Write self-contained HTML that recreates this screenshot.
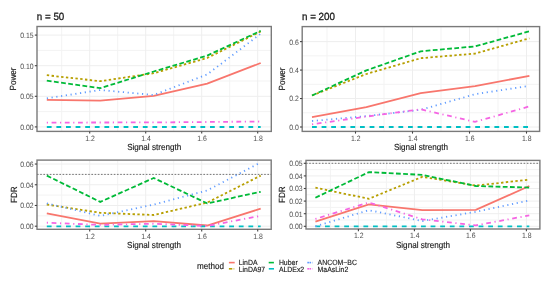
<!DOCTYPE html>
<html><head><meta charset="utf-8"><style>
html,body{margin:0;padding:0;background:#fff;}
body{width:550px;height:282px;overflow:hidden;}
svg{display:block;font-family:"Liberation Sans", sans-serif;filter:blur(0.35px);}
text{stroke-width:0.15px;text-rendering:geometricPrecision;}
</style></head><body>
<svg width="550" height="282" viewBox="0 0 550 282">
<rect width="550" height="282" fill="#fff"/>
<rect x="37" y="26.5" width="234.3" height="104.9" fill="#fff"/>
<line x1="37" x2="271.3" y1="111.60" y2="111.60" stroke="#f3f3f3" stroke-width="1"/>
<line x1="37" x2="271.3" y1="81.00" y2="81.00" stroke="#f3f3f3" stroke-width="1"/>
<line x1="37" x2="271.3" y1="50.40" y2="50.40" stroke="#f3f3f3" stroke-width="1"/>
<line y1="26.5" y2="131.4" x1="61.70" x2="61.70" stroke="#f3f3f3" stroke-width="1"/>
<line y1="26.5" y2="131.4" x1="117.70" x2="117.70" stroke="#f3f3f3" stroke-width="1"/>
<line y1="26.5" y2="131.4" x1="173.70" x2="173.70" stroke="#f3f3f3" stroke-width="1"/>
<line y1="26.5" y2="131.4" x1="229.70" x2="229.70" stroke="#f3f3f3" stroke-width="1"/>
<line x1="37" x2="271.3" y1="126.90" y2="126.90" stroke="#eeeeee" stroke-width="1"/>
<line x1="37" x2="271.3" y1="96.30" y2="96.30" stroke="#eeeeee" stroke-width="1"/>
<line x1="37" x2="271.3" y1="65.70" y2="65.70" stroke="#eeeeee" stroke-width="1"/>
<line x1="37" x2="271.3" y1="35.10" y2="35.10" stroke="#eeeeee" stroke-width="1"/>
<line y1="26.5" y2="131.4" x1="89.70" x2="89.70" stroke="#eeeeee" stroke-width="1"/>
<line y1="26.5" y2="131.4" x1="145.70" x2="145.70" stroke="#eeeeee" stroke-width="1"/>
<line y1="26.5" y2="131.4" x1="201.70" x2="201.70" stroke="#eeeeee" stroke-width="1"/>
<line y1="26.5" y2="131.4" x1="257.70" x2="257.70" stroke="#eeeeee" stroke-width="1"/>
<polyline points="46.80,99.80 100.27,100.60 153.75,95.80 207.22,83.60 260.70,63.00" fill="none" stroke="#F8766D" stroke-width="1.8"/>
<polyline points="46.80,75.20 100.27,81.20 153.75,73.20 207.22,58.00 260.70,31.50" fill="none" stroke="#B79F00" stroke-width="1.8" stroke-dasharray="2.4 2.4"/>
<polyline points="46.80,80.60 100.27,88.20 153.75,71.50 207.22,55.60 260.70,30.80" fill="none" stroke="#00BA38" stroke-width="1.8" stroke-dasharray="4.8 2.4"/>
<polyline points="46.80,127.00 100.27,127.00 153.75,127.00 207.22,127.00 260.70,127.00" fill="none" stroke="#00BFC4" stroke-width="1.8" stroke-dasharray="4.8 4.8"/>
<polyline points="46.80,98.40 100.27,90.00 153.75,95.00 207.22,74.40 260.70,33.70" fill="none" stroke="#619CFF" stroke-width="1.8" stroke-dasharray="1.2 3.5999999999999996"/>
<polyline points="46.80,122.60 100.27,122.50 153.75,122.40 207.22,122.00 260.70,121.50" fill="none" stroke="#F564E3" stroke-width="1.8" stroke-dasharray="1.2 3.5999999999999996 4.8 3.5999999999999996"/>
<rect x="37" y="26.5" width="234.3" height="104.9" fill="none" stroke="#7a7a7a" stroke-width="1.4"/>
<line x1="34.8" x2="37" y1="126.90" y2="126.90" stroke="#444" stroke-width="1.1"/>
<text x="33.60" y="129.80" text-anchor="end" font-size="7.73" textLength="13.43" lengthAdjust="spacingAndGlyphs" fill="#4d4d4d" stroke="none">0.00</text>
<line x1="34.8" x2="37" y1="96.30" y2="96.30" stroke="#444" stroke-width="1.1"/>
<text x="33.60" y="99.20" text-anchor="end" font-size="7.73" textLength="13.43" lengthAdjust="spacingAndGlyphs" fill="#4d4d4d" stroke="none">0.05</text>
<line x1="34.8" x2="37" y1="65.70" y2="65.70" stroke="#444" stroke-width="1.1"/>
<text x="33.60" y="68.60" text-anchor="end" font-size="7.73" textLength="13.43" lengthAdjust="spacingAndGlyphs" fill="#4d4d4d" stroke="none">0.10</text>
<line x1="34.8" x2="37" y1="35.10" y2="35.10" stroke="#444" stroke-width="1.1"/>
<text x="33.60" y="38.00" text-anchor="end" font-size="7.73" textLength="13.43" lengthAdjust="spacingAndGlyphs" fill="#4d4d4d" stroke="none">0.15</text>
<line x1="89.70" x2="89.70" y1="131.4" y2="133.6" stroke="#444" stroke-width="1.1"/>
<text x="90.00" y="140.80" text-anchor="middle" font-size="7.73" textLength="9.59" lengthAdjust="spacingAndGlyphs" fill="#4d4d4d" stroke="none">1.2</text>
<line x1="145.70" x2="145.70" y1="131.4" y2="133.6" stroke="#444" stroke-width="1.1"/>
<text x="146.00" y="140.80" text-anchor="middle" font-size="7.73" textLength="9.59" lengthAdjust="spacingAndGlyphs" fill="#4d4d4d" stroke="none">1.4</text>
<line x1="201.70" x2="201.70" y1="131.4" y2="133.6" stroke="#444" stroke-width="1.1"/>
<text x="202.00" y="140.80" text-anchor="middle" font-size="7.73" textLength="9.59" lengthAdjust="spacingAndGlyphs" fill="#4d4d4d" stroke="none">1.6</text>
<line x1="257.70" x2="257.70" y1="131.4" y2="133.6" stroke="#444" stroke-width="1.1"/>
<text x="258.00" y="140.80" text-anchor="middle" font-size="7.73" textLength="9.59" lengthAdjust="spacingAndGlyphs" fill="#4d4d4d" stroke="none">1.8</text>
<text x="154.15" y="150.00" text-anchor="middle" font-size="8.91" textLength="54.03" lengthAdjust="spacingAndGlyphs" fill="#1a1a1a" stroke="#1a1a1a">Signal strength</text>
<text transform="translate(16.25,78.95) rotate(-90)" text-anchor="middle" font-size="8.91" textLength="22.96" lengthAdjust="spacingAndGlyphs" fill="#1a1a1a" stroke="#1a1a1a">Power</text>
<text x="36.80" y="20.10" font-size="10.39" textLength="27.52" lengthAdjust="spacingAndGlyphs" fill="#1a1a1a" stroke="#1a1a1a" style="stroke-width:0.3px">n = 50</text>
<rect x="302.2" y="26.6" width="237.40000000000003" height="104.80000000000001" fill="#fff"/>
<line x1="302.2" x2="539.6" y1="112.77" y2="112.77" stroke="#f3f3f3" stroke-width="1"/>
<line x1="302.2" x2="539.6" y1="84.31" y2="84.31" stroke="#f3f3f3" stroke-width="1"/>
<line x1="302.2" x2="539.6" y1="55.85" y2="55.85" stroke="#f3f3f3" stroke-width="1"/>
<line y1="26.6" y2="131.4" x1="327.00" x2="327.00" stroke="#f3f3f3" stroke-width="1"/>
<line y1="26.6" y2="131.4" x1="384.00" x2="384.00" stroke="#f3f3f3" stroke-width="1"/>
<line y1="26.6" y2="131.4" x1="441.00" x2="441.00" stroke="#f3f3f3" stroke-width="1"/>
<line y1="26.6" y2="131.4" x1="498.00" x2="498.00" stroke="#f3f3f3" stroke-width="1"/>
<line x1="302.2" x2="539.6" y1="127.00" y2="127.00" stroke="#eeeeee" stroke-width="1"/>
<line x1="302.2" x2="539.6" y1="98.54" y2="98.54" stroke="#eeeeee" stroke-width="1"/>
<line x1="302.2" x2="539.6" y1="70.08" y2="70.08" stroke="#eeeeee" stroke-width="1"/>
<line x1="302.2" x2="539.6" y1="41.62" y2="41.62" stroke="#eeeeee" stroke-width="1"/>
<line y1="26.6" y2="131.4" x1="355.50" x2="355.50" stroke="#eeeeee" stroke-width="1"/>
<line y1="26.6" y2="131.4" x1="412.50" x2="412.50" stroke="#eeeeee" stroke-width="1"/>
<line y1="26.6" y2="131.4" x1="469.50" x2="469.50" stroke="#eeeeee" stroke-width="1"/>
<line y1="26.6" y2="131.4" x1="526.50" x2="526.50" stroke="#eeeeee" stroke-width="1"/>
<polyline points="312.00,117.20 366.35,107.10 420.70,93.20 475.05,86.20 529.40,75.80" fill="none" stroke="#F8766D" stroke-width="1.8"/>
<polyline points="312.00,95.50 366.35,74.00 420.70,58.20 475.05,53.60 529.40,38.30" fill="none" stroke="#B79F00" stroke-width="1.8" stroke-dasharray="2.4 2.4"/>
<polyline points="312.00,95.50 366.35,70.40 420.70,51.30 475.05,46.40 529.40,31.30" fill="none" stroke="#00BA38" stroke-width="1.8" stroke-dasharray="4.8 2.4"/>
<polyline points="312.00,127.00 366.35,127.00 420.70,127.00 475.05,127.00 529.40,127.00" fill="none" stroke="#00BFC4" stroke-width="1.8" stroke-dasharray="4.8 4.8"/>
<polyline points="312.00,121.00 366.35,116.10 420.70,109.80 475.05,94.20 529.40,85.80" fill="none" stroke="#619CFF" stroke-width="1.8" stroke-dasharray="1.2 3.5999999999999996"/>
<polyline points="312.00,124.30 366.35,116.60 420.70,109.30 475.05,121.90 529.40,106.40" fill="none" stroke="#F564E3" stroke-width="1.8" stroke-dasharray="1.2 3.5999999999999996 4.8 3.5999999999999996"/>
<rect x="302.2" y="26.6" width="237.40000000000003" height="104.80000000000001" fill="none" stroke="#7a7a7a" stroke-width="1.4"/>
<line x1="300.0" x2="302.2" y1="127.00" y2="127.00" stroke="#444" stroke-width="1.1"/>
<text x="298.80" y="129.90" text-anchor="end" font-size="7.73" textLength="9.59" lengthAdjust="spacingAndGlyphs" fill="#4d4d4d" stroke="none">0.0</text>
<line x1="300.0" x2="302.2" y1="98.54" y2="98.54" stroke="#444" stroke-width="1.1"/>
<text x="298.80" y="101.44" text-anchor="end" font-size="7.73" textLength="9.59" lengthAdjust="spacingAndGlyphs" fill="#4d4d4d" stroke="none">0.2</text>
<line x1="300.0" x2="302.2" y1="70.08" y2="70.08" stroke="#444" stroke-width="1.1"/>
<text x="298.80" y="72.98" text-anchor="end" font-size="7.73" textLength="9.59" lengthAdjust="spacingAndGlyphs" fill="#4d4d4d" stroke="none">0.4</text>
<line x1="300.0" x2="302.2" y1="41.62" y2="41.62" stroke="#444" stroke-width="1.1"/>
<text x="298.80" y="44.52" text-anchor="end" font-size="7.73" textLength="9.59" lengthAdjust="spacingAndGlyphs" fill="#4d4d4d" stroke="none">0.6</text>
<line x1="355.50" x2="355.50" y1="131.4" y2="133.6" stroke="#444" stroke-width="1.1"/>
<text x="355.80" y="140.80" text-anchor="middle" font-size="7.73" textLength="9.59" lengthAdjust="spacingAndGlyphs" fill="#4d4d4d" stroke="none">1.2</text>
<line x1="412.50" x2="412.50" y1="131.4" y2="133.6" stroke="#444" stroke-width="1.1"/>
<text x="412.80" y="140.80" text-anchor="middle" font-size="7.73" textLength="9.59" lengthAdjust="spacingAndGlyphs" fill="#4d4d4d" stroke="none">1.4</text>
<line x1="469.50" x2="469.50" y1="131.4" y2="133.6" stroke="#444" stroke-width="1.1"/>
<text x="469.80" y="140.80" text-anchor="middle" font-size="7.73" textLength="9.59" lengthAdjust="spacingAndGlyphs" fill="#4d4d4d" stroke="none">1.6</text>
<line x1="526.50" x2="526.50" y1="131.4" y2="133.6" stroke="#444" stroke-width="1.1"/>
<text x="526.80" y="140.80" text-anchor="middle" font-size="7.73" textLength="9.59" lengthAdjust="spacingAndGlyphs" fill="#4d4d4d" stroke="none">1.8</text>
<text x="420.90" y="150.00" text-anchor="middle" font-size="8.91" textLength="54.03" lengthAdjust="spacingAndGlyphs" fill="#1a1a1a" stroke="#1a1a1a">Signal strength</text>
<text transform="translate(284.90,79.00) rotate(-90)" text-anchor="middle" font-size="8.91" textLength="22.96" lengthAdjust="spacingAndGlyphs" fill="#1a1a1a" stroke="#1a1a1a">Power</text>
<text x="302.00" y="20.20" font-size="10.39" textLength="32.97" lengthAdjust="spacingAndGlyphs" fill="#1a1a1a" stroke="#1a1a1a" style="stroke-width:0.3px">n = 200</text>
<rect x="37" y="160.1" width="234.2" height="69.20000000000002" fill="#fff"/>
<line x1="37" x2="271.2" y1="215.84" y2="215.84" stroke="#f3f3f3" stroke-width="1"/>
<line x1="37" x2="271.2" y1="195.12" y2="195.12" stroke="#f3f3f3" stroke-width="1"/>
<line x1="37" x2="271.2" y1="174.40" y2="174.40" stroke="#f3f3f3" stroke-width="1"/>
<line y1="160.1" y2="229.3" x1="61.70" x2="61.70" stroke="#f3f3f3" stroke-width="1"/>
<line y1="160.1" y2="229.3" x1="117.70" x2="117.70" stroke="#f3f3f3" stroke-width="1"/>
<line y1="160.1" y2="229.3" x1="173.70" x2="173.70" stroke="#f3f3f3" stroke-width="1"/>
<line y1="160.1" y2="229.3" x1="229.70" x2="229.70" stroke="#f3f3f3" stroke-width="1"/>
<line x1="37" x2="271.2" y1="226.20" y2="226.20" stroke="#eeeeee" stroke-width="1"/>
<line x1="37" x2="271.2" y1="205.48" y2="205.48" stroke="#eeeeee" stroke-width="1"/>
<line x1="37" x2="271.2" y1="184.76" y2="184.76" stroke="#eeeeee" stroke-width="1"/>
<line x1="37" x2="271.2" y1="164.04" y2="164.04" stroke="#eeeeee" stroke-width="1"/>
<line y1="160.1" y2="229.3" x1="89.70" x2="89.70" stroke="#eeeeee" stroke-width="1"/>
<line y1="160.1" y2="229.3" x1="145.70" x2="145.70" stroke="#eeeeee" stroke-width="1"/>
<line y1="160.1" y2="229.3" x1="201.70" x2="201.70" stroke="#eeeeee" stroke-width="1"/>
<line y1="160.1" y2="229.3" x1="257.70" x2="257.70" stroke="#eeeeee" stroke-width="1"/>
<line x1="37" x2="271.2" y1="174.40" y2="174.40" stroke="#666" stroke-width="0.9" stroke-dasharray="1.6 1.6"/>
<polyline points="46.80,213.30 100.27,223.70 153.75,221.10 207.22,225.50 260.70,208.60" fill="none" stroke="#F8766D" stroke-width="1.8"/>
<polyline points="46.80,204.50 100.27,212.80 153.75,215.00 207.22,202.60 260.70,175.60" fill="none" stroke="#B79F00" stroke-width="1.8" stroke-dasharray="2.4 2.4"/>
<polyline points="46.80,175.60 100.27,201.90 153.75,178.00 207.22,203.40 260.70,191.80" fill="none" stroke="#00BA38" stroke-width="1.8" stroke-dasharray="4.8 2.4"/>
<polyline points="46.80,226.30 100.27,226.30 153.75,226.30 207.22,226.30 260.70,226.30" fill="none" stroke="#00BFC4" stroke-width="1.8" stroke-dasharray="4.8 4.8"/>
<polyline points="46.80,203.40 100.27,215.90 153.75,204.60 207.22,190.40 260.70,162.40" fill="none" stroke="#619CFF" stroke-width="1.8" stroke-dasharray="1.2 3.5999999999999996"/>
<polyline points="46.80,222.70 100.27,224.90 153.75,223.70 207.22,226.00 260.70,215.80" fill="none" stroke="#F564E3" stroke-width="1.8" stroke-dasharray="1.2 3.5999999999999996 4.8 3.5999999999999996"/>
<rect x="37" y="160.1" width="234.2" height="69.20000000000002" fill="none" stroke="#7a7a7a" stroke-width="1.4"/>
<line x1="34.8" x2="37" y1="226.20" y2="226.20" stroke="#444" stroke-width="1.1"/>
<text x="33.60" y="229.10" text-anchor="end" font-size="7.73" textLength="13.43" lengthAdjust="spacingAndGlyphs" fill="#4d4d4d" stroke="none">0.00</text>
<line x1="34.8" x2="37" y1="205.48" y2="205.48" stroke="#444" stroke-width="1.1"/>
<text x="33.60" y="208.38" text-anchor="end" font-size="7.73" textLength="13.43" lengthAdjust="spacingAndGlyphs" fill="#4d4d4d" stroke="none">0.02</text>
<line x1="34.8" x2="37" y1="184.76" y2="184.76" stroke="#444" stroke-width="1.1"/>
<text x="33.60" y="187.66" text-anchor="end" font-size="7.73" textLength="13.43" lengthAdjust="spacingAndGlyphs" fill="#4d4d4d" stroke="none">0.04</text>
<line x1="34.8" x2="37" y1="164.04" y2="164.04" stroke="#444" stroke-width="1.1"/>
<text x="33.60" y="166.94" text-anchor="end" font-size="7.73" textLength="13.43" lengthAdjust="spacingAndGlyphs" fill="#4d4d4d" stroke="none">0.06</text>
<line x1="89.70" x2="89.70" y1="229.3" y2="231.5" stroke="#444" stroke-width="1.1"/>
<text x="90.00" y="238.70" text-anchor="middle" font-size="7.73" textLength="9.59" lengthAdjust="spacingAndGlyphs" fill="#4d4d4d" stroke="none">1.2</text>
<line x1="145.70" x2="145.70" y1="229.3" y2="231.5" stroke="#444" stroke-width="1.1"/>
<text x="146.00" y="238.70" text-anchor="middle" font-size="7.73" textLength="9.59" lengthAdjust="spacingAndGlyphs" fill="#4d4d4d" stroke="none">1.4</text>
<line x1="201.70" x2="201.70" y1="229.3" y2="231.5" stroke="#444" stroke-width="1.1"/>
<text x="202.00" y="238.70" text-anchor="middle" font-size="7.73" textLength="9.59" lengthAdjust="spacingAndGlyphs" fill="#4d4d4d" stroke="none">1.6</text>
<line x1="257.70" x2="257.70" y1="229.3" y2="231.5" stroke="#444" stroke-width="1.1"/>
<text x="258.00" y="238.70" text-anchor="middle" font-size="7.73" textLength="9.59" lengthAdjust="spacingAndGlyphs" fill="#4d4d4d" stroke="none">1.8</text>
<text x="154.10" y="247.90" text-anchor="middle" font-size="8.91" textLength="54.03" lengthAdjust="spacingAndGlyphs" fill="#1a1a1a" stroke="#1a1a1a">Signal strength</text>
<text transform="translate(16.50,194.70) rotate(-90)" text-anchor="middle" font-size="8.91" textLength="16.65" lengthAdjust="spacingAndGlyphs" fill="#1a1a1a" stroke="#1a1a1a">FDR</text>
<rect x="306" y="160.4" width="233.89999999999998" height="68.6" fill="#fff"/>
<line x1="306" x2="539.9" y1="220.00" y2="220.00" stroke="#f3f3f3" stroke-width="1"/>
<line x1="306" x2="539.9" y1="207.40" y2="207.40" stroke="#f3f3f3" stroke-width="1"/>
<line x1="306" x2="539.9" y1="194.80" y2="194.80" stroke="#f3f3f3" stroke-width="1"/>
<line x1="306" x2="539.9" y1="182.20" y2="182.20" stroke="#f3f3f3" stroke-width="1"/>
<line x1="306" x2="539.9" y1="169.60" y2="169.60" stroke="#f3f3f3" stroke-width="1"/>
<line y1="160.4" y2="229" x1="330.40" x2="330.40" stroke="#f3f3f3" stroke-width="1"/>
<line y1="160.4" y2="229" x1="386.40" x2="386.40" stroke="#f3f3f3" stroke-width="1"/>
<line y1="160.4" y2="229" x1="442.40" x2="442.40" stroke="#f3f3f3" stroke-width="1"/>
<line y1="160.4" y2="229" x1="498.40" x2="498.40" stroke="#f3f3f3" stroke-width="1"/>
<line x1="306" x2="539.9" y1="226.30" y2="226.30" stroke="#eeeeee" stroke-width="1"/>
<line x1="306" x2="539.9" y1="213.70" y2="213.70" stroke="#eeeeee" stroke-width="1"/>
<line x1="306" x2="539.9" y1="201.10" y2="201.10" stroke="#eeeeee" stroke-width="1"/>
<line x1="306" x2="539.9" y1="188.50" y2="188.50" stroke="#eeeeee" stroke-width="1"/>
<line x1="306" x2="539.9" y1="175.90" y2="175.90" stroke="#eeeeee" stroke-width="1"/>
<line x1="306" x2="539.9" y1="163.30" y2="163.30" stroke="#eeeeee" stroke-width="1"/>
<line y1="160.4" y2="229" x1="358.40" x2="358.40" stroke="#eeeeee" stroke-width="1"/>
<line y1="160.4" y2="229" x1="414.40" x2="414.40" stroke="#eeeeee" stroke-width="1"/>
<line y1="160.4" y2="229" x1="470.40" x2="470.40" stroke="#eeeeee" stroke-width="1"/>
<line y1="160.4" y2="229" x1="526.40" x2="526.40" stroke="#eeeeee" stroke-width="1"/>
<line x1="306" x2="539.9" y1="163.30" y2="163.30" stroke="#666" stroke-width="0.9" stroke-dasharray="1.6 1.6"/>
<polyline points="315.40,221.60 368.88,204.30 422.35,210.20 475.82,209.90 529.30,186.00" fill="none" stroke="#F8766D" stroke-width="1.8"/>
<polyline points="315.40,187.70 368.88,198.80 422.35,176.80 475.82,185.60 529.30,179.60" fill="none" stroke="#B79F00" stroke-width="1.8" stroke-dasharray="2.4 2.4"/>
<polyline points="315.40,197.70 368.88,172.10 422.35,174.90 475.82,186.00 529.30,187.60" fill="none" stroke="#00BA38" stroke-width="1.8" stroke-dasharray="4.8 2.4"/>
<polyline points="315.40,226.30 368.88,226.30 422.35,226.30 475.82,226.30 529.30,226.30" fill="none" stroke="#00BFC4" stroke-width="1.8" stroke-dasharray="4.8 4.8"/>
<polyline points="315.40,226.30 368.88,210.20 422.35,221.00 475.82,211.80 529.30,200.50" fill="none" stroke="#619CFF" stroke-width="1.8" stroke-dasharray="1.2 3.5999999999999996"/>
<polyline points="315.40,218.90 368.88,202.50 422.35,219.30 475.82,225.40 529.30,215.40" fill="none" stroke="#F564E3" stroke-width="1.8" stroke-dasharray="1.2 3.5999999999999996 4.8 3.5999999999999996"/>
<rect x="306" y="160.4" width="233.89999999999998" height="68.6" fill="none" stroke="#7a7a7a" stroke-width="1.4"/>
<line x1="303.8" x2="306" y1="226.30" y2="226.30" stroke="#444" stroke-width="1.1"/>
<text x="302.60" y="229.20" text-anchor="end" font-size="7.73" textLength="13.43" lengthAdjust="spacingAndGlyphs" fill="#4d4d4d" stroke="none">0.00</text>
<line x1="303.8" x2="306" y1="213.70" y2="213.70" stroke="#444" stroke-width="1.1"/>
<text x="302.60" y="216.60" text-anchor="end" font-size="7.73" textLength="13.43" lengthAdjust="spacingAndGlyphs" fill="#4d4d4d" stroke="none">0.01</text>
<line x1="303.8" x2="306" y1="201.10" y2="201.10" stroke="#444" stroke-width="1.1"/>
<text x="302.60" y="204.00" text-anchor="end" font-size="7.73" textLength="13.43" lengthAdjust="spacingAndGlyphs" fill="#4d4d4d" stroke="none">0.02</text>
<line x1="303.8" x2="306" y1="188.50" y2="188.50" stroke="#444" stroke-width="1.1"/>
<text x="302.60" y="191.40" text-anchor="end" font-size="7.73" textLength="13.43" lengthAdjust="spacingAndGlyphs" fill="#4d4d4d" stroke="none">0.03</text>
<line x1="303.8" x2="306" y1="175.90" y2="175.90" stroke="#444" stroke-width="1.1"/>
<text x="302.60" y="178.80" text-anchor="end" font-size="7.73" textLength="13.43" lengthAdjust="spacingAndGlyphs" fill="#4d4d4d" stroke="none">0.04</text>
<line x1="303.8" x2="306" y1="163.30" y2="163.30" stroke="#444" stroke-width="1.1"/>
<text x="302.60" y="166.20" text-anchor="end" font-size="7.73" textLength="13.43" lengthAdjust="spacingAndGlyphs" fill="#4d4d4d" stroke="none">0.05</text>
<line x1="358.40" x2="358.40" y1="229" y2="231.2" stroke="#444" stroke-width="1.1"/>
<text x="358.70" y="238.40" text-anchor="middle" font-size="7.73" textLength="9.59" lengthAdjust="spacingAndGlyphs" fill="#4d4d4d" stroke="none">1.2</text>
<line x1="414.40" x2="414.40" y1="229" y2="231.2" stroke="#444" stroke-width="1.1"/>
<text x="414.70" y="238.40" text-anchor="middle" font-size="7.73" textLength="9.59" lengthAdjust="spacingAndGlyphs" fill="#4d4d4d" stroke="none">1.4</text>
<line x1="470.40" x2="470.40" y1="229" y2="231.2" stroke="#444" stroke-width="1.1"/>
<text x="470.70" y="238.40" text-anchor="middle" font-size="7.73" textLength="9.59" lengthAdjust="spacingAndGlyphs" fill="#4d4d4d" stroke="none">1.6</text>
<line x1="526.40" x2="526.40" y1="229" y2="231.2" stroke="#444" stroke-width="1.1"/>
<text x="526.70" y="238.40" text-anchor="middle" font-size="7.73" textLength="9.59" lengthAdjust="spacingAndGlyphs" fill="#4d4d4d" stroke="none">1.8</text>
<text x="422.95" y="247.60" text-anchor="middle" font-size="8.91" textLength="54.03" lengthAdjust="spacingAndGlyphs" fill="#1a1a1a" stroke="#1a1a1a">Signal strength</text>
<text transform="translate(284.80,194.70) rotate(-90)" text-anchor="middle" font-size="8.91" textLength="16.65" lengthAdjust="spacingAndGlyphs" fill="#1a1a1a" stroke="#1a1a1a">FDR</text>
<text x="197.00" y="268.80" font-size="8.91" textLength="27.02" lengthAdjust="spacingAndGlyphs" fill="#1a1a1a" stroke="#1a1a1a">method</text>
<line x1="228.9" x2="234.7" y1="262.6" y2="262.6" stroke="#F8766D" stroke-width="1.6"/>
<text x="238.70" y="264.90" font-size="7.59" textLength="18.79" lengthAdjust="spacingAndGlyphs" fill="#1a1a1a" stroke="#1a1a1a">LinDA</text>
<line x1="228.9" x2="232.2" y1="268.8" y2="268.8" stroke="#B79F00" stroke-width="1.6"/>
<line x1="232.7" x2="234.7" y1="268.8" y2="268.8" stroke="#B79F00" stroke-width="1.6" stroke-opacity="0.35"/>
<text x="238.70" y="271.90" font-size="7.59" textLength="26.47" lengthAdjust="spacingAndGlyphs" fill="#1a1a1a" stroke="#1a1a1a">LinDA97</text>
<line x1="268.7" x2="273.9" y1="262.6" y2="262.6" stroke="#00BA38" stroke-width="1.6"/>
<text x="278.90" y="264.90" font-size="7.59" textLength="18.79" lengthAdjust="spacingAndGlyphs" fill="#1a1a1a" stroke="#1a1a1a">Huber</text>
<line x1="268.8" x2="274.0" y1="268.8" y2="268.8" stroke="#00BFC4" stroke-width="1.6"/>
<text x="278.90" y="271.90" font-size="7.59" textLength="25.31" lengthAdjust="spacingAndGlyphs" fill="#1a1a1a" stroke="#1a1a1a">ALDEx2</text>
<line x1="307.3" x2="309.1" y1="262.6" y2="262.6" stroke="#619CFF" stroke-width="1.6"/>
<line x1="309.5" x2="311.1" y1="262.6" y2="262.6" stroke="#619CFF" stroke-width="1.6"/>
<line x1="312.0" x2="313.0" y1="262.6" y2="262.6" stroke="#619CFF" stroke-width="1.6" stroke-opacity="0.35"/>
<text x="317.60" y="264.90" font-size="7.59" textLength="39.30" lengthAdjust="spacingAndGlyphs" fill="#1a1a1a" stroke="#1a1a1a">ANCOM−BC</text>
<line x1="307.3" x2="309.1" y1="268.8" y2="268.8" stroke="#F564E3" stroke-width="1.6"/>
<line x1="309.5" x2="311.1" y1="268.8" y2="268.8" stroke="#F564E3" stroke-width="1.6"/>
<line x1="312.0" x2="313.0" y1="268.8" y2="268.8" stroke="#F564E3" stroke-width="1.6" stroke-opacity="0.35"/>
<text x="317.60" y="271.90" font-size="7.59" textLength="30.68" lengthAdjust="spacingAndGlyphs" fill="#1a1a1a" stroke="#1a1a1a">MaAsLin2</text>
</svg>
</body></html>
